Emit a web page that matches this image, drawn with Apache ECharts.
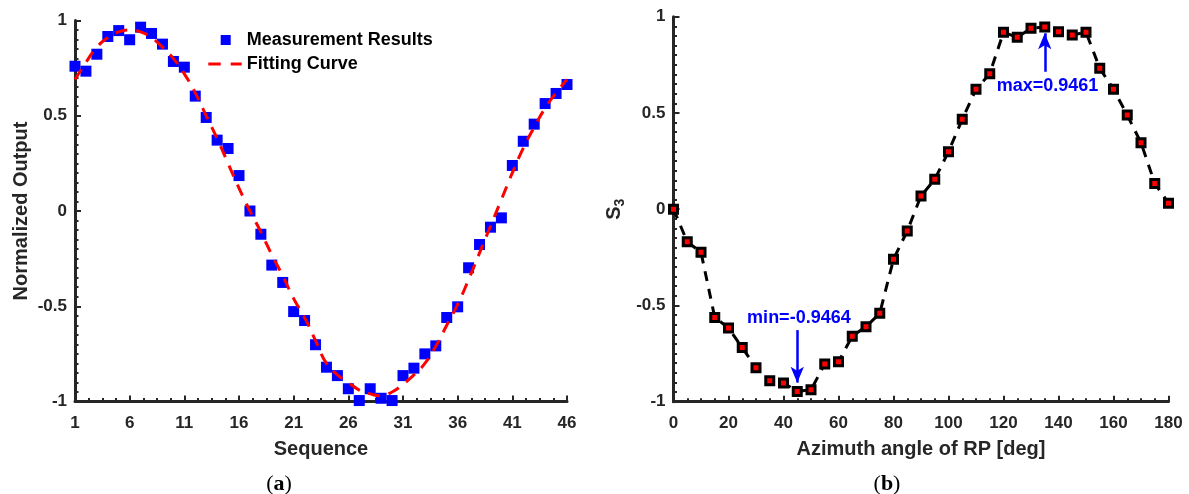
<!DOCTYPE html>
<html><head><meta charset="utf-8">
<script src="https://cdn.jsdelivr.net/npm/echarts@6/dist/echarts.min.js"></script>
<style>html,body{margin:0;padding:0;background:#fff}#c{width:1189px;height:494px}</style>
</head><body><div id="c"></div>
<script>
// ---------- data: panel (a) ----------
const sequence = [1,2,3,4,5,6,7,8,9,10,11,12,13,14,15,16,17,18,19,20,21,22,23,24,25,26,27,28,29,30,31,32,33,34,35,36,37,38,39,40,41,42,43,44,45,46];
const measured = [0.76,0.734,0.823,0.916,0.947,0.899,0.965,0.932,0.876,0.785,0.755,0.603,0.491,0.372,0.328,0.186,0.0,-0.122,-0.284,-0.375,-0.528,-0.575,-0.702,-0.82,-0.864,-0.933,-0.995,-0.933,-0.983,-0.995,-0.864,-0.825,-0.75,-0.708,-0.559,-0.503,-0.298,-0.176,-0.085,-0.036,0.239,0.366,0.456,0.564,0.617,0.664];
const fitted = [0.69,0.78,0.86,0.91,0.94,0.95,0.94,0.91,0.86,0.80,0.72,0.62,0.50,0.38,0.25,0.12,0.0,-0.11,-0.23,-0.34,-0.46,-0.56,-0.68,-0.80,-0.86,-0.90,-0.94,-0.96,-0.97,-0.95,-0.91,-0.86,-0.80,-0.71,-0.60,-0.49,-0.36,-0.22,-0.08,0.06,0.20,0.33,0.44,0.54,0.62,0.69];
const seqTicks = [1,6,11,16,21,26,31,36,41,46];
const yTicks = [-1,-0.5,0,0.5,1];
// ---------- data: panel (b) ----------
const azimuth = [0,5,10,15,20,25,30,35,40,45,50,55,60,65,70,75,80,85,90,95,100,105,110,115,120,125,130,135,140,145,150,155,160,165,170,175,180];
const s3 = [0.0,-0.169,-0.224,-0.562,-0.617,-0.719,-0.823,-0.891,-0.903,-0.9464,-0.938,-0.804,-0.792,-0.66,-0.61,-0.541,-0.26,-0.113,0.069,0.155,0.299,0.467,0.623,0.704,0.919,0.893,0.94,0.9461,0.922,0.905,0.919,0.732,0.623,0.489,0.345,0.134,0.031];
const azTicks = [0,20,40,60,80,100,120,140,160,180];

const FONT = "'Liberation Sans', Arial, sans-serif";
const DARK = '#262626';

function pairs(xs, ys){ return xs.map((x,i)=>[x, ys[i]]); }

function axisBase(ticks, minorSplit, gridIndex){
  return {
    type:'value', gridIndex,
    min: ticks[0], max: ticks[ticks.length-1], interval: ticks[1]-ticks[0],
    axisLine:{show:true, onZero:false, lineStyle:{color:DARK, width:3}},
    axisTick:{show:true, inside:true, length:6, lineStyle:{color:DARK, width:2}},
    minorTick:{show:true, splitNumber:minorSplit, length:3.5, lineStyle:{color:DARK, width:2}},
    splitLine:{show:false}, minorSplitLine:{show:false},
    axisLabel:{fontFamily:FONT, fontWeight:'bold', fontSize:17, color:DARK},
    nameTextStyle:{fontFamily:FONT, fontWeight:'bold', fontSize:20, color:DARK},
    nameLocation:'middle'
  };
}

const xA = Object.assign(axisBase(seqTicks, 4, 0), {name:'Sequence', nameGap:38});
xA.axisLabel.margin = 13;
const yA = Object.assign(axisBase(yTicks, 10, 0), {name:'Normalized Output', nameGap:44});
yA.axisLabel.margin = 8;
const xB = Object.assign(axisBase(azTicks, 4, 1), {name:'Azimuth angle of RP [deg]', nameGap:38});
xB.axisLabel.margin = 13;
const yB = Object.assign(axisBase(yTicks, 10, 1), {name:'{s|S}{sub|3}', nameGap:46});
yB.axisLabel.margin = 8;
yB.nameTextStyle.rich = {
  s:{fontFamily:FONT, fontSize:20, fontWeight:'bold', color:DARK, lineHeight:26},
  sub:{fontFamily:FONT, fontSize:14, fontWeight:'bold', color:DARK, lineHeight:14, verticalAlign:'bottom'}
};

const maxIdx = s3.indexOf(Math.max(...s3));
const minIdx = s3.indexOf(Math.min(...s3));
const BLUE = '#0000FF';
const RED = '#FF0000';

const option = {
  backgroundColor:'#fff',
  animation:false,
  grid:[
    {left:75, top:20.5, width:492, height:381},
    {left:673.5, top:16.7, width:495, height:385}
  ],
  xAxis:[xA, xB],
  yAxis:[yA, yB],
  legend:[
    {data:['Measurement Results'], left:220.7, top:31, padding:0, itemWidth:10, itemHeight:10, icon:'rect',
     itemStyle:{color:BLUE, opacity:1},
     textStyle:{fontFamily:FONT, fontWeight:'bold', fontSize:18, color:'#000', padding:[0,0,0,11]}},
    {data:[{name:'Fitting Curve', icon:'path://M0,0H12.4V3H0Z M22.4,0H33.4V3H22.4Z'}],
     left:208.3, top:55, padding:0, itemWidth:33.4, itemHeight:3,
     itemStyle:{color:RED, borderWidth:0},
     textStyle:{fontFamily:FONT, fontWeight:'bold', fontSize:18, color:'#000'}}
  ],
  title:[
    {text:'({b|a})', left:274, top:468, textAlign:'center',
     textStyle:{fontFamily:"'Liberation Serif', serif", fontSize:22, fontWeight:'normal', color:'#000',
       rich:{b:{fontFamily:"'Liberation Serif', serif", fontSize:22, fontWeight:'bold', color:'#000'}}}},
    {text:'({b|b})', left:882, top:468, textAlign:'center',
     textStyle:{fontFamily:"'Liberation Serif', serif", fontSize:22, fontWeight:'normal', color:'#000',
       rich:{b:{fontFamily:"'Liberation Serif', serif", fontSize:22, fontWeight:'bold', color:'#000'}}}}
  ],
  series:[
    {name:'Measurement Results', type:'scatter', xAxisIndex:0, yAxisIndex:0,
     symbol:'rect', symbolSize:11, itemStyle:{color:BLUE, opacity:1}, data:pairs(sequence, measured), z:2},
    {name:'Fitting Curve', type:'line', xAxisIndex:0, yAxisIndex:0, smooth:true,
     showSymbol:false, symbol:'none', lineStyle:{color:RED, width:3, type:[12,9]},
     itemStyle:{color:RED}, data:pairs(sequence, fitted), z:3},
    {name:'S3', type:'line', xAxisIndex:1, yAxisIndex:1,
     symbol:'rect', symbolSize:8, showAllSymbol:true,
     itemStyle:{color:RED, borderColor:'#000', borderWidth:3},
     lineStyle:{color:'#000', width:3, type:[10,8]},
     data:pairs(azimuth, s3),
     markLine:{silent:true, symbol:['none','arrow'], symbolSize:[10,16],
       lineStyle:{color:BLUE, width:2.5, type:'solid'}, label:{show:false},
       data:[
         [{coord:[azimuth[maxIdx], 0.714]}, {coord:[azimuth[maxIdx], 0.914]}],
         [{coord:[azimuth[minIdx], -0.628]}, {coord:[azimuth[minIdx], -0.901]}]
       ]},
     markPoint:{silent:true, symbol:'rect', symbolSize:1, itemStyle:{color:'rgba(0,0,0,0)'},
       label:{show:true, position:'inside', fontFamily:FONT, fontWeight:'bold', fontSize:18, color:BLUE},
       data:[
         {coord:[136, 0.64], label:{formatter:'max=' + s3[maxIdx].toFixed(4)}},
         {coord:[45.6, -0.567], label:{formatter:'min=' + s3[minIdx].toFixed(4)}}
       ]}
    }
  ]
};
const chart = echarts.init(document.getElementById('c'), null, {renderer:'canvas'});
chart.setOption(option);
</script>
</body></html>
